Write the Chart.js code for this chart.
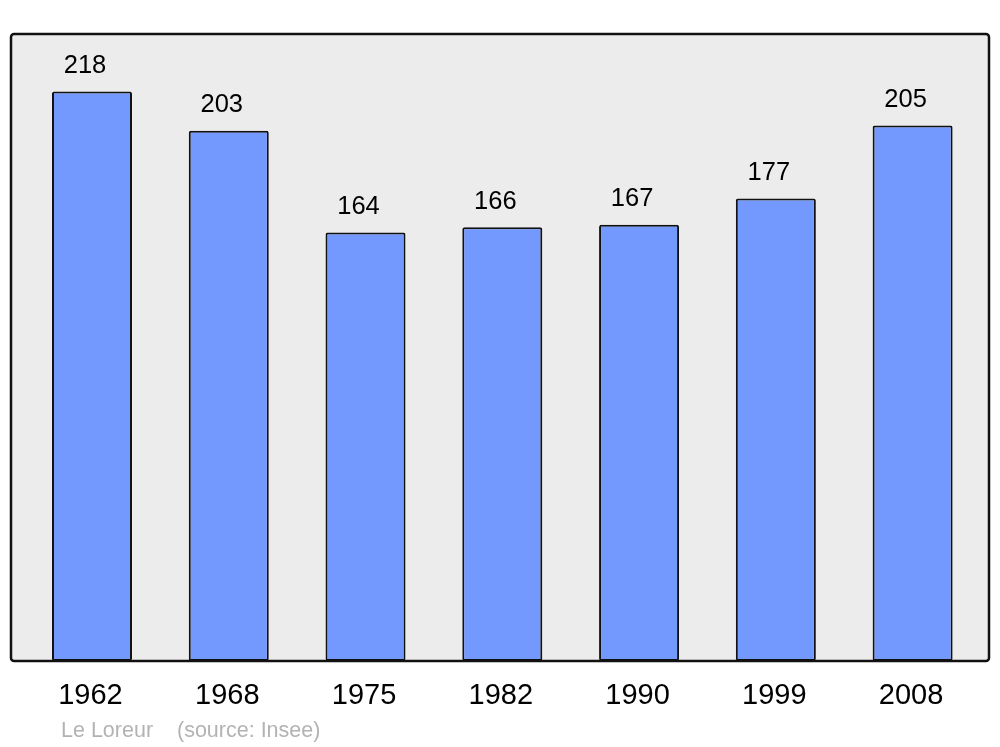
<!DOCTYPE html>
<html>
<head>
<meta charset="utf-8">
<script src="https://cdn.jsdelivr.net/npm/chart.js@4/dist/chart.umd.min.js"></script>
<style>
html,body{margin:0;padding:0;background:#fff;}
#wrap{width:1000px;height:747px;position:relative;}
</style>
</head>
<body>
<div id="wrap"><canvas id="c" width="1000" height="747"></canvas></div>
<script>
const years = ["1962", "1968", "1975", "1982", "1990", "1999", "2008"];
const population = [218, 203, 164, 166, 167, 177, 205];
const footerName = "Le Loreur";
const footerSource = "(source: Insee)";

const FONT = "'Liberation Sans', Arial, sans-serif";

const framePlugin = {
  id: 'frame',
  beforeDraw(chart) {
    const a = chart.chartArea, ctx = chart.ctx;
    const x0 = a.left - 12.6, x1 = a.right + 8, y0 = a.top, y1 = a.bottom;
    ctx.save();
    ctx.beginPath();
    ctx.roundRect(x0, y0, x1 - x0, y1 - y0, 3);
    ctx.fillStyle = '#ececec';
    ctx.fill();
    ctx.restore();
  },
  afterDatasetsDraw(chart) {
    const a = chart.chartArea, ctx = chart.ctx;
    const x0 = a.left - 12.6, x1 = a.right + 8, y0 = a.top, y1 = a.bottom;
    ctx.save();
    ctx.beginPath();
    ctx.roundRect(x0, y0, x1 - x0, y1 - y0, 3);
    ctx.lineWidth = 2.5;
    ctx.strokeStyle = '#111';
    ctx.stroke();
    // value labels
    const meta = chart.getDatasetMeta(0);
    ctx.fillStyle = '#000';
    ctx.font = "25.5px " + FONT;
    ctx.textAlign = 'center';
    ctx.textBaseline = 'alphabetic';
    meta.data.forEach((bar, i) => {
      ctx.fillText(String(chart.data.datasets[0].data[i]), bar.x - 7, bar.y - 18.4);
    });
    // footer
    ctx.fillStyle = '#b3b3b3';
    ctx.font = "21.5px " + FONT;
    ctx.textAlign = 'left';
    ctx.fillText(footerName, 61, 737);
    ctx.fillText(footerSource, 177, 737);
    ctx.restore();
  }
};

new Chart(document.getElementById('c'), {
  type: 'bar',
  data: {
    labels: years,
    datasets: [{
      data: population,
      backgroundColor: '#7399ff',
      borderColor: '#111',
      borderWidth: 2,
      borderRadius: 2,
      borderSkipped: false,
      barPercentage: 0.585,
      categoryPercentage: 1.0
    }]
  },
  options: {
    responsive: false,
    animation: false,
    devicePixelRatio: 1,
    layout: { padding: { left: 23.6, right: 19, top: 34, bottom: 15.2 } },
    plugins: { legend: { display: false }, tooltip: { enabled: false }, title: { display: false } },
    scales: {
      x: {
        grid: { display: false, drawTicks: false },
        border: { display: false },
        ticks: { color: '#000', font: { family: FONT, size: 29 }, padding: 18, maxRotation: 0, labelOffset: -1.5 }
      },
      y: {
        display: false,
        min: 0,
        max: 240
      }
    }
  },
  plugins: [framePlugin]
});
</script>
</body>
</html>
